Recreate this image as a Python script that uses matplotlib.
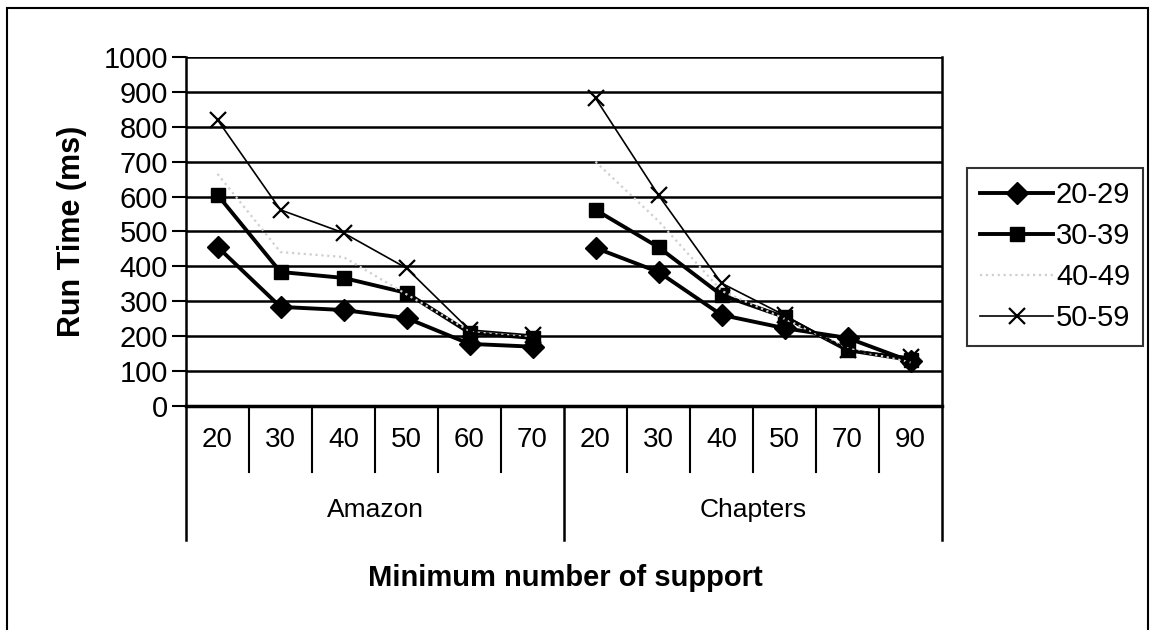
import matplotlib.pyplot as plt
import matplotlib.transforms as mtransforms
from matplotlib.patches import Rectangle
import numpy as np

plt.rcParams['font.family'] = ['Liberation Sans', 'DejaVu Sans']

# minimum support values per data set
groups = ['Amazon', 'Chapters']
supports = [['20', '30', '40', '50', '60', '70'],
            ['20', '30', '40', '50', '70', '90']]

# run times (ms) by age range
amazon = {
    '20-29': [456, 284, 275, 252, 178, 170],
    '30-39': [605, 384, 367, 324, 210, 195],
    '40-49': [665, 441, 427, 320, 215, 200],
    '50-59': [820, 562, 496, 395, 218, 203],
}
chapters = {
    '20-29': [453, 384, 261, 223, 195, 128],
    '30-39': [562, 455, 318, 255, 160, 132],
    '40-49': [700, 530, 330, 250, 165, 125],
    '50-59': [882, 604, 352, 260, 160, 140],
}

styles = {
    '20-29': dict(color='black', lw=2.8, marker='D', ms=11, ls='-'),
    '30-39': dict(color='black', lw=2.8, marker='s', ms=10, ls='-'),
    '40-49': dict(color='#cfcfcf', lw=1.6, marker=None, ls=':'),
    '50-59': dict(color='black', lw=1.2, marker='x', ms=11, mew=1.6, ls='-'),
}

fig = plt.figure(figsize=(11.5, 6.3), dpi=100)
ax = fig.add_axes([186 / 1150, 224 / 630, 756 / 1150, 349 / 630])

n = len(supports[0])
x_a = np.arange(n)
x_c = np.arange(n) + n
handles = []
for name in ['20-29', '30-39', '40-49', '50-59']:
    st = styles[name]
    h, = ax.plot(x_a, amazon[name], label=name, zorder=3, **st)
    ax.plot(x_c, chapters[name], zorder=3, **st)
    handles.append(h)

ax.set_xlim(-0.5, 2 * n - 0.5)
ax.set_ylim(0, 1000)
ax.set_yticks(np.arange(0, 1001, 100))
ax.tick_params(axis='y', labelsize=21, length=10, width=1.5, pad=3)
ax.set_xticks([])
ax.yaxis.grid(True, color='black', lw=1.8)
ax.set_axisbelow(True)
for side in ['left', 'right', 'bottom']:
    ax.spines[side].set_linewidth(1.8)
ax.spines['bottom'].set_linewidth(2.5)
ax.spines['top'].set_visible(False)

ax.set_ylabel('Run Time (ms)', fontsize=22, fontweight='bold', labelpad=12)

# two-level category axis under the plot
trans = mtransforms.blended_transform_factory(ax.transData, ax.transAxes)
h_px = 349
y_num = -34 / h_px
y_sep = -66 / h_px
y_grp = -104 / h_px
y_gsep = -134 / h_px
labels = supports[0] + supports[1]
for i, lab in enumerate(labels):
    ax.text(i, y_num, lab, transform=trans, ha='center', va='center', fontsize=20)
for b in range(1, 2 * n):
    if b == n:
        continue
    ax.plot([b - 0.5, b - 0.5], [0, y_sep], transform=trans, color='black',
            lw=1.5, clip_on=False)
for b in [-0.5, n - 0.5, 2 * n - 0.5]:
    ax.plot([b, b], [0, y_gsep], transform=trans, color='black', lw=1.8, clip_on=False)
for g, name in enumerate(groups):
    ax.text(g * n + (n - 1) / 2, y_grp, name, transform=trans, ha='center',
            va='center', fontsize=19)

fig.text(565 / 1150, 1 - 578 / 630, 'Minimum number of support', ha='center',
         va='center', fontsize=21, fontweight='bold')

leg = fig.legend(handles=handles, loc='upper left', bbox_to_anchor=(967 / 1150, 1 - 168 / 630),
                 fontsize=21, frameon=True, fancybox=False, handlelength=2.5,
                 handletextpad=0.1, labelspacing=0.45, borderpad=0.45, borderaxespad=0)
leg.get_frame().set_edgecolor('black')
leg.get_frame().set_linewidth(1.5)

# outer chart border
fig.patches.append(Rectangle((7 / 1150, -0.02), 1141 / 1150, 1 - 8 / 630 + 0.02,
                             transform=fig.transFigure, fill=False, ec='black', lw=1.5))

fig.savefig('out.png', dpi=100)
